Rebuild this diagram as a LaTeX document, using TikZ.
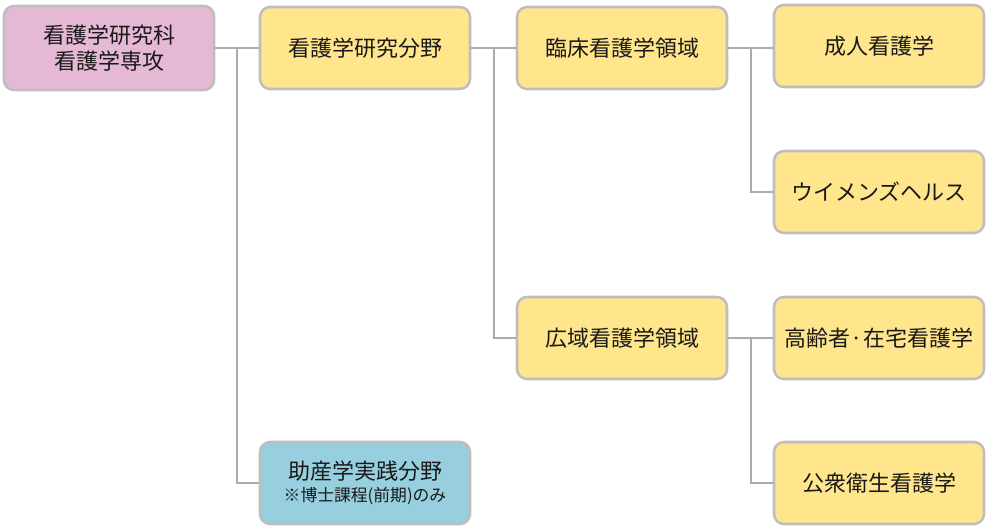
\documentclass[tikz,border=0pt]{standalone}
\usepackage{fontspec}
\setmainfont{Noto Sans CJK JP}
\usetikzlibrary{calc}
\definecolor{boxyellow}{HTML}{FFE68C}
\definecolor{boxpink}{HTML}{E5B9D5}
\definecolor{boxblue}{HTML}{97CFDF}
\definecolor{boxgray}{HTML}{BEBEBE}
\definecolor{linegray}{HTML}{ABABAB}

\begin{document}
\begin{tikzpicture}[
    x=0.75pt, y=-0.75pt,
    every node/.style={font=\fontsize{16.5}{20}\selectfont, text=black!90},
    unit/.style={draw=boxgray, line width=1.9pt, rounded corners=7.5pt, fill=boxyellow,
        minimum width=157.5pt, minimum height=61.5pt, align=center, inner sep=0pt},
    link/.style={draw=linegray, line width=1.5pt}
]
    \useasboundingbox (0,0) rectangle (1000,529);

    % boxes
    \node[unit, fill=boxpink, minimum height=63pt] (dept) at (109,48) {看護学研究科\\看護学専攻};
    \node[unit] (nursing) at (365,48) {看護学研究分野};
    \node[unit, fill=boxblue] (midwife) at (365,483)
        {助産学実践分野\\[-3pt]{\fontsize{12.6}{14}\selectfont ※博士課程(前期)のみ}};
    \node[unit] (clinical) at (622,48) {臨床看護学領域};
    \node[unit] (broad) at (622,338) {広域看護学領域};
    \node[unit] (adult) at (879,46) {成人看護学};
    \node[unit] (women) at (879,192) {ウイメンズヘルス};
    \node[unit] (elder) at (879,338) {高齢者·在宅看護学};
    \node[unit] (public) at (879,483) {公衆衛生看護学};

    % connectors
    \draw[link] (dept.east) -- (nursing.west);
    \draw[link] ($(dept.east)!0.5!(nursing.west)$) |- (midwife.west);
    \draw[link] (nursing.east) -- (clinical.west);
    \draw[link] ($(nursing.east)!0.5!(clinical.west)$) |- (broad.west);
    \draw[link] (clinical.east) -- (clinical.east -| adult.west);
    \draw[link] ($(clinical.east)!0.5!(clinical.east -| adult.west)$) |- (women.west);
    \draw[link] (broad.east) -- (elder.west);
    \draw[link] ($(broad.east)!0.5!(elder.west)$) |- (public.west);
\end{tikzpicture}
\end{document}
